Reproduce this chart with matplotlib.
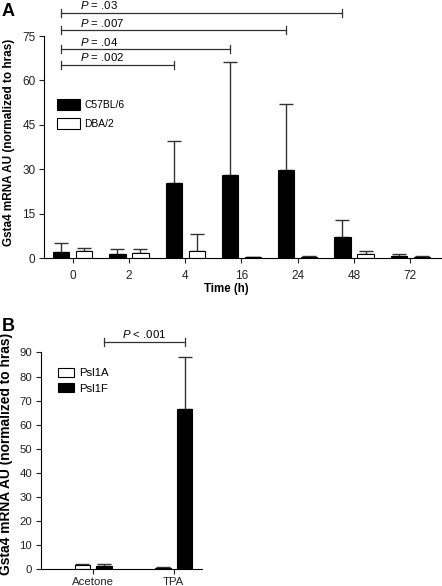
import numpy as np
import matplotlib
matplotlib.use("Agg")
import matplotlib.pyplot as plt

plt.rcParams['font.family'] = ['Liberation Sans', 'DejaVu Sans']
plt.rcParams['mathtext.fontset'] = 'custom'
plt.rcParams['mathtext.it'] = 'Liberation Sans:italic'
plt.rcParams['mathtext.rm'] = 'Liberation Sans'

# panel A data
times = ['0', '2', '4', '16', '24', '48', '72']
c57_mean = [2.2, 1.3, 25.4, 27.9, 29.7, 7.1, 0.8]
c57_err = [3.0, 1.7, 14.1, 38.3, 22.5, 5.6, 0.45]
dba_mean = [2.5, 1.8, 2.3, 0.2, 0.4, 1.25, 0.5]
dba_err = [1.0, 1.1, 5.7, 0.05, 0.15, 1.25, 0.35]
p_a_labels = ['.002', '.04', '.007', '.03']
p_a_end = [2, 3, 4, 5]
p_a_level = [65.3, 70.7, 77.0, 82.9]

# panel B data
treat = ['Acetone', 'TPA']
psl1a_mean = [1.9, 0.6]
psl1a_err = [0.3, 0.15]
psl1f_mean = [1.3, 66.5]
psl1f_err = [1.0, 21.5]

ERRC = '#333333'
YLAB = 'Gsta4 mRNA AU (normalized to hras)'

fig = plt.figure(figsize=(4.42, 5.86), dpi=100)

# ---- panel A
axA = fig.add_axes([0.0995, 0.5597, 0.905, 0.3788])
x = np.arange(len(times))
w = 0.29
off = 0.205
zeros = np.zeros(len(times))
axA.bar(x - off, c57_mean, w, color='black', edgecolor='black', lw=0.8,
        label='C57BL/6', zorder=2)
axA.bar(x + off, dba_mean, w, color='white', edgecolor='black', lw=0.8,
        label='DBA/2', zorder=2)
axA.errorbar(x - off, c57_mean, yerr=[zeros, c57_err], fmt='none',
             ecolor=ERRC, elinewidth=1.0, capsize=5, capthick=1.0, zorder=1)
axA.errorbar(x + off, dba_mean, yerr=[zeros, dba_err], fmt='none',
             ecolor=ERRC, elinewidth=1.0, capsize=5, capthick=1.0, zorder=1)

axA.set_xlim(-0.51, 6.6)
axA.set_ylim(0, 75)
axA.set_yticks([0, 15, 30, 45, 60, 75])
axA.set_xticks(x)
axA.set_xticklabels(times)
for s in ['top', 'right']:
    axA.spines[s].set_visible(False)
axA.tick_params(labelsize=8.5, length=3.6, width=0.8, colors='#222222')
axA.tick_params(axis='y', pad=2.5)
axA.tick_params(axis='x', pad=5)
axA.set_xlabel('Time (h)', fontsize=8.3, fontweight='bold', va='top')
axA.xaxis.set_label_coords(0.456, -0.114)
axA.set_ylabel(YLAB, fontsize=8.5, fontweight='bold')
axA.yaxis.set_label_coords(-0.073, 0.52)

x0 = x[0] - off
for lab, end, lev in zip(p_a_labels, p_a_end, p_a_level):
    x1 = x[end] - off
    axA.plot([x0, x1], [lev, lev], color=ERRC, lw=0.9, clip_on=False)
    for xe in (x0, x1):
        axA.plot([xe, xe], [lev - 1.3, lev + 1.3], color=ERRC, lw=0.9,
                 clip_on=False)
    axA.text(x0 + 0.33, lev + 1.1, r'$\it{P}$ = ' + lab, fontsize=8.2,
             ha='left', va='baseline')

axA.legend(loc='upper left', bbox_to_anchor=(0.022, 0.735), frameon=False,
           fontsize=7.4, handlelength=2.2, handleheight=1.28,
           labelspacing=0.8, handletextpad=0.45, borderaxespad=0)

fig.text(0.004, 0.995, 'A', fontsize=13, fontweight='bold', va='top')

# ---- panel B
axB = fig.add_axes([0.092, 0.0285, 0.365, 0.370])
xb = np.arange(len(treat))
wb = 0.19
offb = 0.135
zb = np.zeros(len(treat))
axB.bar(xb - offb, psl1a_mean, wb, color='white', edgecolor='black', lw=0.8,
        label='Psl1A', zorder=2)
axB.bar(xb + offb, psl1f_mean, wb, color='black', edgecolor='black', lw=0.8,
        label='Psl1F', zorder=2)
axB.errorbar(xb - offb, psl1a_mean, yerr=[zb, psl1a_err], fmt='none',
             ecolor=ERRC, elinewidth=1.0, capsize=5, capthick=1.0, zorder=1)
axB.errorbar(xb + offb, psl1f_mean, yerr=[zb, psl1f_err], fmt='none',
             ecolor=ERRC, elinewidth=1.0, capsize=5, capthick=1.0, zorder=1)
axB.set_xlim(-0.65, 1.35)
axB.set_ylim(0, 90)
axB.set_yticks(np.arange(0, 91, 10))
axB.set_xticks(xb)
axB.set_xticklabels(treat)
for s in ['top', 'right']:
    axB.spines[s].set_visible(False)
axB.tick_params(labelsize=8.2, length=3.5, width=0.8, colors='#222222')
axB.tick_params(axis='y', pad=2.5)
axB.tick_params(axis='x', pad=2)
axB.set_ylabel(YLAB, fontsize=9.9, fontweight='bold')
axB.yaxis.set_label_coords(-0.169, 0.53)

bx0 = xb[0] + offb
bx1 = xb[1] + offb
blev = 94.4
axB.plot([bx0, bx1], [blev, blev], color=ERRC, lw=0.9, clip_on=False)
for xe in (bx0, bx1):
    axB.plot([xe, xe], [blev - 1.6, blev + 1.6], color=ERRC, lw=0.9,
             clip_on=False)
axB.text((bx0 + bx1) / 2, blev + 1.5, r'$\it{P}$ < .001', fontsize=8.2,
         ha='center', va='baseline')

axB.legend(loc='upper left', bbox_to_anchor=(0.08, 0.95), frameon=False,
           fontsize=8.2, handlelength=1.35, handleheight=0.8,
           labelspacing=0.45, handletextpad=0.5, borderaxespad=0)

fig.text(0.004, 0.457, 'B', fontsize=13, fontweight='bold', va='top')

fig.savefig('out.png', dpi=100)
